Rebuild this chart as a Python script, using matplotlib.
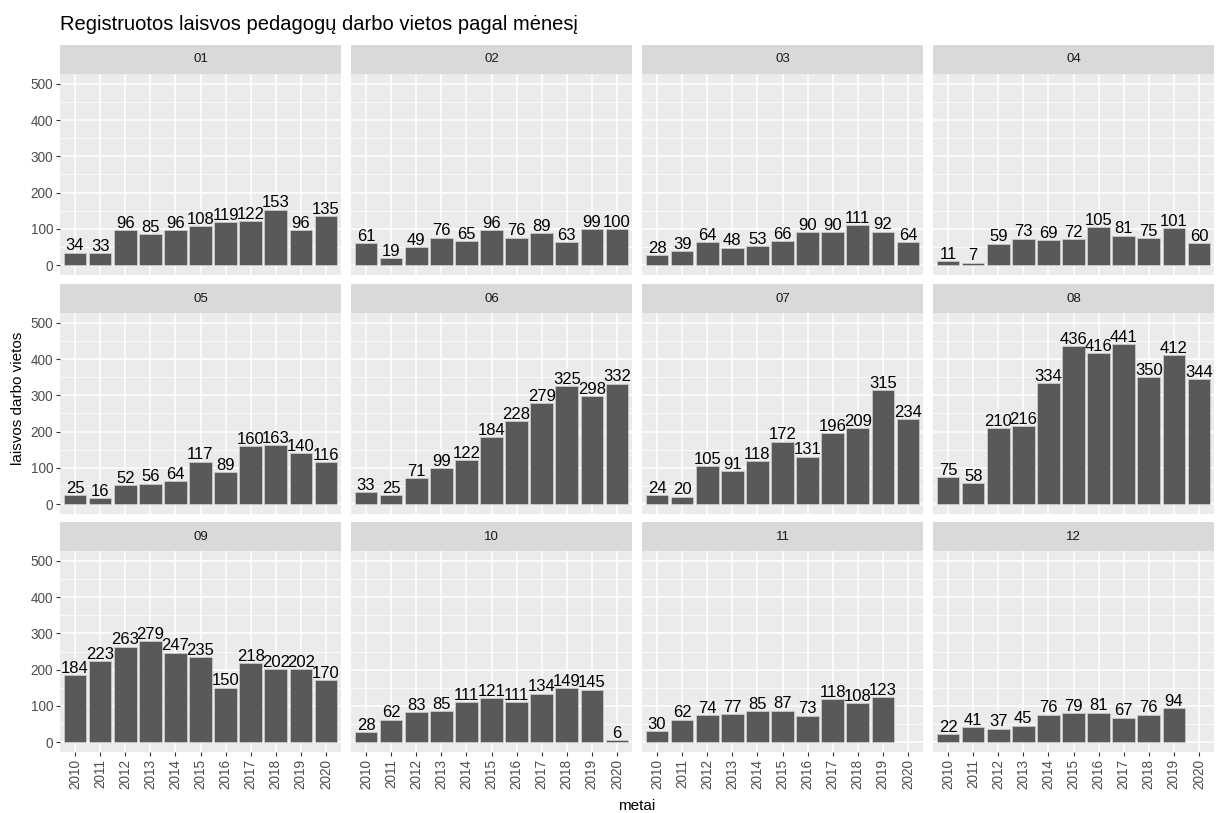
import matplotlib
matplotlib.use("Agg")
import matplotlib.pyplot as plt
from matplotlib.ticker import MultipleLocator

plt.rcParams['font.family'] = ['Liberation Sans', 'DejaVu Sans']

years = ["2010", "2011", "2012", "2013", "2014", "2015", "2016", "2017", "2018", "2019", "2020"]
months = ["01", "02", "03", "04", "05", "06", "07", "08", "09", "10", "11", "12"]

m01 = [34, 33, 96, 85, 96, 108, 119, 122, 153, 96, 135]
m02 = [61, 19, 49, 76, 65, 96, 76, 89, 63, 99, 100]
m03 = [28, 39, 64, 48, 53, 66, 90, 90, 111, 92, 64]
m04 = [11, 7, 59, 73, 69, 72, 105, 81, 75, 101, 60]
m05 = [25, 16, 52, 56, 64, 117, 89, 160, 163, 140, 116]
m06 = [33, 25, 71, 99, 122, 184, 228, 279, 325, 298, 332]
m07 = [24, 20, 105, 91, 118, 172, 131, 196, 209, 315, 234]
m08 = [75, 58, 210, 216, 334, 436, 416, 441, 350, 412, 344]
m09 = [184, 223, 263, 279, 247, 235, 150, 218, 202, 202, 170]
m10 = [28, 62, 83, 85, 111, 121, 111, 134, 149, 145, 6]
m11 = [30, 62, 74, 77, 85, 87, 73, 118, 108, 123, None]
m12 = [22, 41, 37, 45, 76, 79, 81, 67, 76, 94, None]
series = [m01, m02, m03, m04, m05, m06, m07, m08, m09, m10, m11, m12]

title = "Registruotos laisvos pedagogų darbo vietos pagal mėnesį"
xlabel = "metai"
ylabel = "laisvos darbo vietos"

W, H = 1216, 813
fig = plt.figure(figsize=(W / 100, H / 100), dpi=100)

col_left = [60, 351, 642, 933]
col_w = 281
row_strip_top = [45, 284, 522]
strip_h = 29
panel_h = 201

for i, (m, vals) in enumerate(zip(months, series)):
    r, c = divmod(i, 4)
    x0 = col_left[c]
    ytop = row_strip_top[r] + strip_h
    ax = fig.add_axes([x0 / W, 1 - (ytop + panel_h) / H, col_w / W, panel_h / H])
    sax = fig.add_axes([x0 / W, 1 - (row_strip_top[r] + strip_h) / H, col_w / W, strip_h / H])
    sax.set_facecolor('#D9D9D9')
    sax.set_xticks([]); sax.set_yticks([])
    for s in sax.spines.values():
        s.set_visible(False)
    sax.text(0.5, 0.5, m, ha='center', va='center', fontsize=9.5, color='#1A1A1A', transform=sax.transAxes)

    ax.set_facecolor('#EBEBEB')
    for s in ax.spines.values():
        s.set_visible(False)
    xs = [j for j, v in enumerate(vals) if v is not None]
    ys = [v for v in vals if v is not None]
    ax.bar(xs, ys, width=0.9, color='#595959', edgecolor='#D0D0D0', linewidth=0.5, zorder=3)
    for xv, yv in zip(xs, ys):
        ax.annotate(str(yv), (xv, yv), xytext=(0, -0.5), textcoords='offset points',
                    ha='center', va='bottom', fontsize=12, color='black', zorder=4)
    ax.set_xlim(-0.6, 10.6)
    ax.set_ylim(-27.5, 527.5)
    ax.set_xticks(range(len(years)))
    ax.yaxis.set_major_locator(MultipleLocator(100))
    ax.yaxis.set_minor_locator(MultipleLocator(50))
    ax.grid(which='major', color='white', linewidth=1.1, zorder=0)
    ax.grid(which='minor', axis='y', color='white', linewidth=0.55, zorder=0)
    ax.set_axisbelow(True)
    ax.tick_params(which='minor', length=0)
    ax.tick_params(which='major', length=3, width=0.8, color='#333333', labelsize=9.8,
                   labelcolor='#4D4D4D', pad=2)
    if r == 2:
        ax.set_xticklabels(years, rotation=90)
    else:
        ax.set_xticklabels([])
        ax.tick_params(axis='x', length=0)
    if c != 0:
        ax.set_yticklabels([])
        ax.tick_params(axis='y', length=0)

fig.text(60 / W, 1 - 25 / H, title, ha='left', va='center', fontsize=14.5, color='black')
fig.text(637 / W, 1 - 806 / H, xlabel, ha='center', va='center', fontsize=11, color='black')
fig.text(18 / W, 1 - 398 / H, ylabel, ha='center', va='center', rotation=90, fontsize=11, color='black')

fig.savefig('out.png', dpi=100)
